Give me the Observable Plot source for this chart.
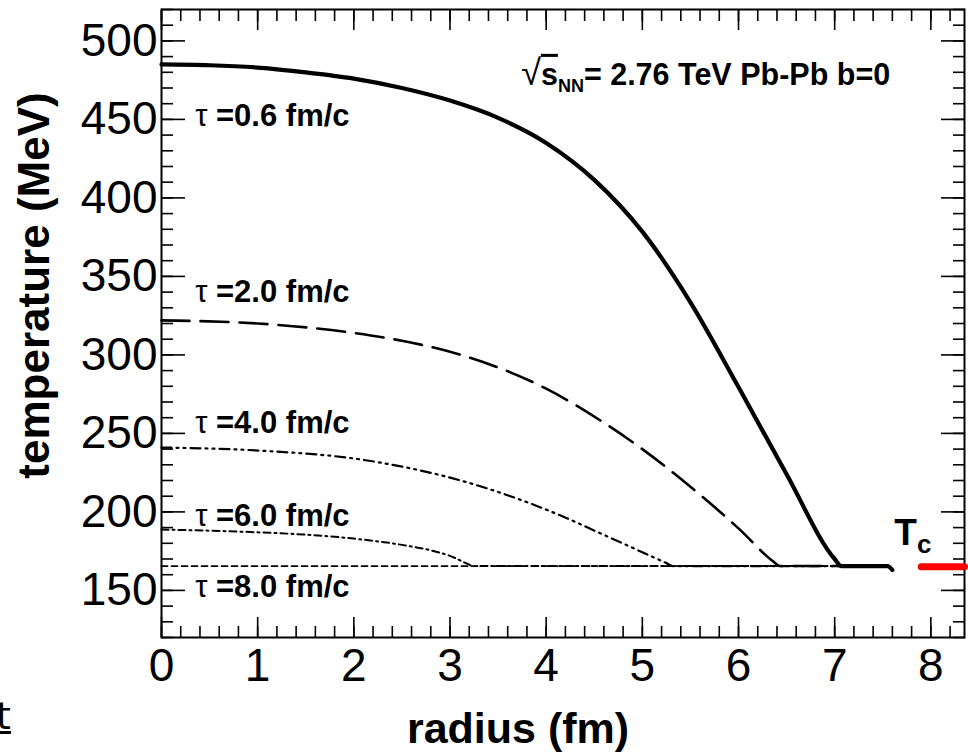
<!DOCTYPE html>
<html><head><meta charset="utf-8">
<script src="https://cdn.jsdelivr.net/npm/d3@7"></script>
<script src="https://cdn.jsdelivr.net/npm/@observablehq/plot@0.6"></script>
<style>
body{margin:0;background:#fff;overflow:hidden;width:968px;height:752px;}
#chart{position:absolute;left:0;top:0;}
#link{position:absolute;left:-4px;top:697px;font-family:"DejaVu Sans";font-size:38px;line-height:1;text-decoration:underline;color:#000;}
</style></head><body><div id="chart"></div><div id="link">t</div>
<script>
// tau = 0.6 fm/c (solid)
const r06 = [0, 0.5, 1, 1.5, 2, 2.5, 3, 3.5, 4, 4.5, 5, 5.5, 6, 6.5, 7.0, 7.07, 7.55, 7.6];
const T06 = [485, 484.5, 483, 480, 476, 470, 462, 451, 435, 411.5, 378.5, 333.5, 279.5, 224, 170, 165.5, 165.5, 163];
// tau = 2.0 fm/c (long dash)
const r20 = [0, 1, 2, 2.5, 3, 3.5, 4, 4.57, 5, 5.5, 6, 6.37, 6.43, 7.5];
const T20 = [322, 320, 314, 309, 302, 292, 278.5, 258, 240, 216, 189.5, 168, 165.5, 165.5];
// tau = 4.0 fm/c (dash-dot-dot)
const r40 = [0, 1.03, 2.07, 3.11, 4.15, 4.57, 5.24, 5.32, 7.5];
const T40 = [241, 239, 233.4, 220, 197.7, 186.2, 167.7, 165.5, 165.5];
// tau = 6.0 fm/c (dash-dot)
const r60 = [0, 1, 1.5, 2, 2.5, 2.8, 3.0, 3.18, 3.24, 7.5];
const T60 = [188.8, 187, 185.5, 183, 179, 175.5, 172, 167, 165.5, 165.5];
// tau = 8.0 fm/c (short dash)
const r80 = [0, 7.5];
const T80 = [165.5, 165.5];

const tauLabels = ["τ =0.6 fm/c", "τ =2.0 fm/c", "τ =4.0 fm/c", "τ =6.0 fm/c", "τ =8.0 fm/c"];
const labelR = [0.35, 0.35, 0.35, 0.35, 0.35];
const labelT = [446, 333.4, 250, 191.3, 145.5];

const tcR = [7.9, 8.35];
const tcT = [165, 165];

const xMajor = [0, 1, 2, 3, 4, 5, 6, 7, 8];
const xMinor = d3.range(0, 8.35, 0.2).map(v => +v.toFixed(1));
const yMajor = [150, 200, 250, 300, 350, 400, 450, 500];
const yMinor = d3.range(120, 521, 10);

const rows = (R, T) => R.map((r, i) => ({r, T: T[i]}));
const labels = tauLabels.map((t, i) => ({t, r: labelR[i], T: labelT[i]}));

const FONT = '"Liberation Sans", Arial, Helvetica, sans-serif';

const plot = Plot.plot({
  width: 968, height: 752,
  marginLeft: 161, marginRight: 4, marginTop: 9, marginBottom: 115,
  style: {fontFamily: FONT, background: "white", color: "black", overflow: "visible"},
  x: {domain: [0, 8.35]},
  y: {domain: [120, 520]},
  marks: [
    // inward ticks on all four sides
    Plot.axisX({anchor: "bottom", ticks: xMajor, tickSize: -20, text: null, label: null, strokeWidth: 1.6}),
    Plot.axisX({anchor: "bottom", ticks: xMinor, tickSize: -11, text: null, label: null, strokeWidth: 1.6}),
    Plot.axisX({anchor: "top", ticks: xMajor, tickSize: -20, text: null, label: null, strokeWidth: 1.6}),
    Plot.axisX({anchor: "top", ticks: xMinor, tickSize: -11, text: null, label: null, strokeWidth: 1.6}),
    Plot.axisY({anchor: "left", ticks: yMajor, tickSize: -24, text: null, label: null, strokeWidth: 1.6}),
    Plot.axisY({anchor: "left", ticks: yMinor, tickSize: -12, text: null, label: null, strokeWidth: 1.6}),
    Plot.axisY({anchor: "right", ticks: yMajor, tickSize: -24, text: null, label: null, strokeWidth: 1.6}),
    Plot.axisY({anchor: "right", ticks: yMinor, tickSize: -12, text: null, label: null, strokeWidth: 1.6}),
    // tick labels
    Plot.axisX({anchor: "bottom", ticks: xMajor, tickSize: 0, tickPadding: 11, fontSize: 46, label: null, tickFormat: d => String(d)}),
    Plot.axisY({anchor: "left", ticks: yMajor, tickSize: 0, tickPadding: 4, fontSize: 46, label: null, tickFormat: d => String(d)}),
    // axis titles
    Plot.text(["temperature (MeV)"], {frameAnchor: "left", textAnchor: "middle", rotate: -90, dx: -127, dy: -38, fontSize: 44, fontWeight: "bold", lineAnchor: "middle"}),
    Plot.text(["radius (fm)"], {frameAnchor: "bottom", textAnchor: "middle", dx: -45, dy: 92, fontSize: 43, fontWeight: "bold", lineAnchor: "middle"}),
    Plot.frame({stroke: "black", strokeWidth: 2}),
    // curves
    Plot.line(rows(r80, T80), {x: "r", y: "T", stroke: "black", strokeWidth: 1.8, strokeDasharray: "6,4"}),
    Plot.line(rows(r60, T60), {x: "r", y: "T", stroke: "black", strokeWidth: 2, strokeDasharray: "7,4,2,4", curve: "monotone-x"}),
    Plot.line(rows(r40, T40), {x: "r", y: "T", stroke: "black", strokeWidth: 2.2, strokeDasharray: "10,5,2,5,2,5", curve: "monotone-x"}),
    Plot.line(rows(r20, T20), {x: "r", y: "T", stroke: "black", strokeWidth: 2.6, strokeDasharray: "28,11", curve: "monotone-x"}),
    Plot.line(rows(r06, T06), {x: "r", y: "T", stroke: "black", strokeWidth: 4.2, curve: "monotone-x"}),
    // Tc marker
    Plot.line(rows(tcR, tcT), {x: "r", y: "T", stroke: "#ff0000", strokeWidth: 7}),
    Plot.text(["Tc"], {x: 7.62, y: 178.8, textAnchor: "start", lineAnchor: "bottom", fontSize: 37, fontWeight: "bold"}),
    // labels
    Plot.text(labels, {x: "r", y: "T", text: "t", textAnchor: "start", lineAnchor: "bottom", fontSize: 31, fontWeight: "bold"}),
    Plot.text(["√sNN= 2.76 TeV Pb-Pb b=0"], {x: 3.74, y: 472, textAnchor: "start", lineAnchor: "bottom", fontSize: 30.5, fontWeight: "bold"})
  ]
});

// rich text: subscripts, radical, symbol weight
d3.select(plot).selectAll("text").each(function() {
  const el = d3.select(this);
  const s = this.textContent;
  if (this.querySelector("tspan")) return;
  if (s === "Tc") {
    el.text("");
    el.append("tspan").text("T");
    el.append("tspan").attr("font-size", 26).attr("dy", 8).text("c");
  } else if (s.startsWith("τ")) {
    el.text("");
    el.append("tspan").attr("font-weight", "normal").text("τ");
    el.append("tspan").text(s.slice(1));
  } else if (s.startsWith("√")) {
    el.text("");
    el.append("tspan").attr("font-weight", "normal").attr("font-size", 36).text("√");
    el.append("tspan").style("text-decoration", "overline").text("s");
    el.append("tspan").attr("font-size", 18).attr("dy", 7).text("NN");
    el.append("tspan").attr("dy", -7).text("= 2.76 TeV Pb-Pb b=0");
  }
});

document.getElementById("chart").appendChild(plot);
</script>
</body></html>
